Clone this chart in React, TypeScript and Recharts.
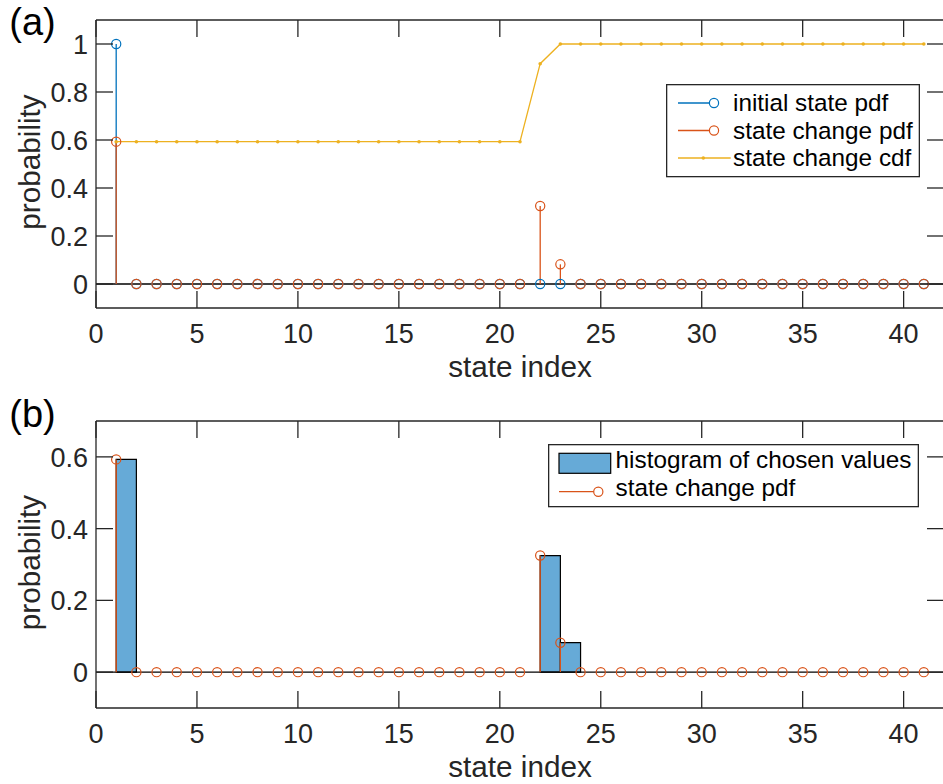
import {
  ComposedChart,
  Line,
  Scatter,
  ErrorBar,
  XAxis,
  YAxis,
  ReferenceLine,
  ReferenceArea,
  Legend,
} from "recharts";

// state indices 1..41
const stateIdx = [
  1, 2, 3, 4, 5, 6, 7, 8, 9, 10, 11, 12, 13, 14, 15, 16, 17, 18, 19, 20, 21,
  22, 23, 24, 25, 26, 27, 28, 29, 30, 31, 32, 33, 34, 35, 36, 37, 38, 39, 40,
  41,
];

const initialPdf = [
  1, 0, 0, 0, 0, 0, 0, 0, 0, 0, 0, 0, 0, 0, 0, 0, 0, 0, 0, 0, 0,
  0, 0, 0, 0, 0, 0, 0, 0, 0, 0, 0, 0, 0, 0, 0, 0, 0, 0, 0, 0,
];

const changePdf = [
  0.593, 0, 0, 0, 0, 0, 0, 0, 0, 0, 0, 0, 0, 0, 0, 0, 0, 0, 0, 0, 0,
  0.325, 0.082, 0, 0, 0, 0, 0, 0, 0, 0, 0, 0, 0, 0, 0, 0, 0, 0, 0, 0,
];

const changeCdf = [
  0.593, 0.593, 0.593, 0.593, 0.593, 0.593, 0.593, 0.593, 0.593, 0.593,
  0.593, 0.593, 0.593, 0.593, 0.593, 0.593, 0.593, 0.593, 0.593, 0.593,
  0.593, 0.918, 1, 1, 1, 1, 1, 1, 1, 1, 1, 1, 1, 1, 1, 1, 1, 1, 1, 1, 1,
];

// histogram bins (left edge, right edge, normalised count)
const histLo = [1, 22, 23];
const histHi = [2, 23, 24];
const histProb = [0.593, 0.325, 0.082];

const xTicks = [0, 5, 10, 15, 20, 25, 30, 35, 40];
const yTicksTop = [0, 0.2, 0.4, 0.6, 0.8, 1];
const yTicksBottom = [0, 0.2, 0.4, 0.6];

const topNames = ["initial state pdf", "state change pdf", "state change cdf"];
const bottomNames = ["histogram of chosen values", "state change pdf"];

const FONT = '"Liberation Sans", Arial, Helvetica, sans-serif';
const AXIS = "#262626";
const BLUE = "#0072BD";
const ORANGE = "#D95319";
const YELLOW = "#EDB120";
const HIST = "#66AAD7";
const TICK_LEN = 17;
const LW = 1.3;

const stemRows = (vals: number[]) =>
  stateIdx.map((x, i) => ({ x, y: vals[i], stem: [vals[i], 0] }));

const cdfRows = stateIdx.map((x, i) => ({ x, cdf: changeCdf[i] }));

// matlab-style ticks: marks point inwards, labels outside
const BottomTick = ({ x, y, payload }: any) => (
  <g>
    <line x1={x} x2={x} y1={y} y2={y - TICK_LEN} stroke={AXIS} strokeWidth={LW} />
    <text x={x} y={y + 35} textAnchor="middle" fontSize={27} fontFamily={FONT} fill={AXIS}>
      {payload.value}
    </text>
  </g>
);

const TopTick = ({ x, y }: any) => (
  <line x1={x} x2={x} y1={y} y2={y + TICK_LEN} stroke={AXIS} strokeWidth={LW} />
);

const LeftTick = ({ x, y, payload }: any) => (
  <g>
    <line x1={x} x2={x + TICK_LEN} y1={y} y2={y} stroke={AXIS} strokeWidth={LW} />
    <text x={x - 8} y={y + 10} textAnchor="end" fontSize={27} fontFamily={FONT} fill={AXIS}>
      {payload.value}
    </text>
  </g>
);

const RightTick = ({ x, y }: any) => (
  <line x1={x} x2={x - TICK_LEN} y1={y} y2={y} stroke={AXIS} strokeWidth={LW} />
);

const XLabel = ({ viewBox }: any) => (
  <text
    x={viewBox.x + viewBox.width / 2}
    y={viewBox.y + 68.7}
    textAnchor="middle"
    fontSize={29.7}
    fontFamily={FONT}
    fill={AXIS}
  >
    state index
  </text>
);

const YLabel = ({ viewBox }: any) => (
  <text
    transform={`translate(40, ${viewBox.y + viewBox.height / 2 - 2}) rotate(-90)`}
    textAnchor="middle"
    fontSize={29.7}
    fontFamily={FONT}
    fill={AXIS}
  >
    probability
  </text>
);

const ring = (color: string) => (p: any) =>
  <circle cx={p.cx} cy={p.cy} r={4.6} fill="none" stroke={color} strokeWidth={1.2} />;

const TopLegend = () => (
  <svg width={255} height={95} style={{ display: "block" }}>
    <rect x={0.65} y={0.65} width={252.7} height={92} fill="#fff" stroke={AXIS} strokeWidth={LW} />
    <line x1={12} x2={48} y1={19} y2={19} stroke={BLUE} strokeWidth={LW} />
    <circle cx={48} cy={19} r={4.6} fill="#fff" stroke={BLUE} strokeWidth={1.2} />
    <line x1={12} x2={48} y1={46.5} y2={46.5} stroke={ORANGE} strokeWidth={LW} />
    <circle cx={48} cy={46.5} r={4.6} fill="#fff" stroke={ORANGE} strokeWidth={1.2} />
    <line x1={12} x2={64.7} y1={74} y2={74} stroke={YELLOW} strokeWidth={LW} />
    <circle cx={37.3} cy={74} r={1.8} fill={YELLOW} />
    {topNames.map((n, i) => (
      <text key={n} x={67} y={[19, 46.5, 74][i] + 8} fontSize={24.3} fontFamily={FONT} fill="#000">
        {n}
      </text>
    ))}
  </svg>
);

const BottomLegend = () => (
  <svg width={372} height={64} style={{ display: "block" }}>
    <rect x={0.65} y={0.65} width={369.7} height={62} fill="#fff" stroke={AXIS} strokeWidth={LW} />
    <rect x={11} y={9.3} width={51.7} height={20} fill={HIST} stroke="#000" strokeWidth={1.2} />
    <line x1={11} x2={50.3} y1={47.7} y2={47.7} stroke={ORANGE} strokeWidth={LW} />
    <circle cx={50.3} cy={47.7} r={4.6} fill="#fff" stroke={ORANGE} strokeWidth={1.2} />
    {bottomNames.map((n, i) => (
      <text key={n} x={67.6} y={[23.7, 51.7][i]} fontSize={24.3} fontFamily={FONT} fill="#000">
        {n}
      </text>
    ))}
  </svg>
);

const axisLine = { stroke: AXIS, strokeWidth: LW };

// box with ticks on all four sides
const panelAxes = (yDomain: number[], yTicks: number[]) => [
  <XAxis
    key="xb"
    dataKey="x"
    type="number"
    domain={[0, 42]}
    ticks={xTicks}
    interval={0}
    tickSize={0}
    tickMargin={0}
    tickLine={false}
    tick={<BottomTick />}
    axisLine={axisLine}
    height={82}
    label={<XLabel />}
    allowDataOverflow
  />,
  <XAxis
    key="xt"
    xAxisId="top"
    orientation="top"
    dataKey="x"
    type="number"
    domain={[0, 42]}
    ticks={xTicks}
    interval={0}
    tickSize={0}
    tickMargin={0}
    tickLine={false}
    tick={<TopTick />}
    axisLine={axisLine}
    height={1}
    allowDataOverflow
  />,
  <YAxis
    key="yl"
    type="number"
    domain={yDomain}
    ticks={yTicks}
    interval={0}
    tickSize={0}
    tickMargin={0}
    tickLine={false}
    tick={<LeftTick />}
    axisLine={axisLine}
    width={96}
    label={<YLabel />}
    allowDataOverflow
  />,
  <YAxis
    key="yr"
    yAxisId="right"
    orientation="right"
    type="number"
    domain={yDomain}
    ticks={yTicks}
    interval={0}
    tickSize={0}
    tickMargin={0}
    tickLine={false}
    tick={<RightTick />}
    axisLine={axisLine}
    width={1}
    allowDataOverflow
  />,
];

export default function App() {
  return (
    <div
      style={{
        position: "absolute",
        left: 0,
        top: 0,
        width: 943,
        height: 784,
        overflow: "hidden",
        background: "#fff",
        fontFamily: FONT,
      }}
    >
      <div style={{ position: "absolute", left: 0, top: 0 }}>
        <ComposedChart
          width={945}
          height={390}
          data={cdfRows}
          margin={{ top: 19, right: 0, bottom: 0, left: 0 }}
        >
          {panelAxes([-0.1, 1.1], yTicksTop)}
          <ReferenceLine y={0} stroke="#000" strokeWidth={LW} />
          <Scatter data={stemRows(initialPdf)} dataKey="y" shape={ring(BLUE)} isAnimationActive={false}>
            <ErrorBar dataKey="stem" direction="y" width={0} stroke={BLUE} strokeWidth={LW} isAnimationActive={false} />
          </Scatter>
          <Scatter data={stemRows(changePdf)} dataKey="y" shape={ring(ORANGE)} isAnimationActive={false}>
            <ErrorBar dataKey="stem" direction="y" width={0} stroke={ORANGE} strokeWidth={LW} isAnimationActive={false} />
          </Scatter>
          <Line
            dataKey="cdf"
            stroke={YELLOW}
            strokeWidth={LW}
            dot={{ r: 1.8, fill: YELLOW, stroke: "none" }}
            activeDot={false}
            isAnimationActive={false}
          />
          <Legend
            content={<TopLegend />}
            layout="horizontal"
            verticalAlign="middle"
            align="center"
            wrapperStyle={{ left: 666, top: 84, width: "auto", height: "auto" }}
          />
        </ComposedChart>
      </div>

      <div style={{ position: "absolute", left: 0, top: 400 }}>
        <ComposedChart
          width={945}
          height={390}
          margin={{ top: 20, right: 0, bottom: 0, left: 0 }}
        >
          {panelAxes([-0.1, 0.7], yTicksBottom)}
          {histLo.map((lo, i) => (
            <ReferenceArea
              key={lo}
              x1={lo}
              x2={histHi[i]}
              y1={0}
              y2={histProb[i]}
              fill={HIST}
              fillOpacity={1}
              stroke="#000"
              strokeWidth={1.2}
            />
          ))}
          <ReferenceLine y={0} stroke="#000" strokeWidth={LW} />
          <Scatter data={stemRows(changePdf)} dataKey="y" shape={ring(ORANGE)} isAnimationActive={false}>
            <ErrorBar dataKey="stem" direction="y" width={0} stroke={ORANGE} strokeWidth={LW} isAnimationActive={false} />
          </Scatter>
          <Legend
            content={<BottomLegend />}
            layout="horizontal"
            verticalAlign="middle"
            align="center"
            wrapperStyle={{ left: 548, top: 44, width: "auto", height: "auto" }}
          />
        </ComposedChart>
      </div>

      <div style={{ position: "absolute", left: 9.3, top: 2.8, fontSize: 38, lineHeight: "38px", color: "#000" }}>
        (a)
      </div>
      <div style={{ position: "absolute", left: 9.3, top: 394.8, fontSize: 38, lineHeight: "38px", color: "#000" }}>
        (b)
      </div>
    </div>
  );
}
